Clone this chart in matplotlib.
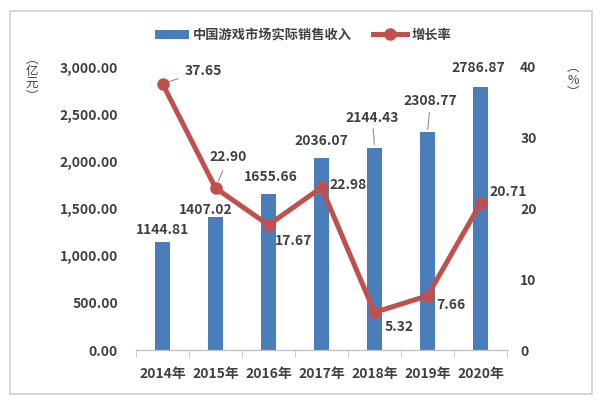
import matplotlib.pyplot as plt
from matplotlib.patches import Rectangle

plt.rcParams['font.family'] = ['Noto Sans CJK SC', 'DejaVu Sans']

years = ['2014年', '2015年', '2016年', '2017年', '2018年', '2019年', '2020年']
revenue = [1144.81, 1407.02, 1655.66, 2036.07, 2144.43, 2308.77, 2786.87]
growth = [37.65, 22.90, 17.67, 22.98, 5.32, 7.66, 20.71]

# label offsets in pixels (bar labels, line labels)
rev_off = [(0, 12), (-10, 7), (2, 17), (0, 17), (-2, 30), (3, 31), (-2, 19)]
gr_off = [(41, 13), (13, 31), (25, -16), (27, 2), (25, -15), (23, -9), (28, 11)]
rev_leader = [False, False, False, False, True, True, False]
gr_leader = [True, True, False, False, False, False, False]

text_c = '#404040'
fig = plt.figure(figsize=(6, 4.04), dpi=100)
fig.patches.append(Rectangle((10 / 600, 10 / 404), 582 / 600, 383 / 404,
                             transform=fig.transFigure, fill=False,
                             edgecolor='#d0d0d0', lw=1.2))
ax = fig.add_axes([136 / 600, 54 / 404, 371 / 600, 283 / 404])
ax2 = ax.twinx()

x = list(range(len(years)))
bars = ax.bar(x, revenue, width=0.265, color='#4a7ebb', label='中国游戏市场实际销售收入', zorder=2)
line, = ax2.plot(x, growth, color='#c0504d', lw=3.6, marker='o', markersize=8,
                 label='增长率', zorder=3)

ax.set_xlim(-0.5, 6.5)
ax.set_ylim(0, 3000)
ax2.set_ylim(0, 40)
ax.set_yticks([0, 500, 1000, 1500, 2000, 2500, 3000])
ax.set_yticklabels(['{:,.2f}'.format(v) for v in ax.get_yticks()])
ax2.set_yticks([0, 10, 20, 30, 40])
ax.set_xticks(x)
ax.set_xticklabels(years)
ax.set_xticks([i - 0.5 for i in range(8)], minor=True)
ax.tick_params(axis='x', which='major', length=0, pad=12)
ax.tick_params(axis='x', which='minor', length=5, color='#bfbfbf', direction='out')
ax.tick_params(axis='y', length=0, pad=13)
ax2.tick_params(axis='y', length=0, pad=9.5)
for a in (ax, ax2):
    for s in ['top', 'right', 'left']:
        a.spines[s].set_visible(False)
    a.spines['bottom'].set_color('#bfbfbf')
    for lab in a.get_xticklabels() + a.get_yticklabels():
        lab.set_fontsize(10)
        lab.set_fontweight('bold')
        lab.set_color(text_c)

leader = dict(arrowstyle='-', color='#909090', lw=0.8, shrinkA=1, shrinkB=2)
for i, v in enumerate(revenue):
    ax.annotate('{:.2f}'.format(v), (i, v), xytext=rev_off[i], textcoords='offset pixels',
                ha='center', va='center', fontsize=10, fontweight='bold', color=text_c,
                arrowprops=leader if rev_leader[i] else None)
for i, v in enumerate(growth):
    ax2.annotate('{:.2f}'.format(v), (i, v), xytext=gr_off[i], textcoords='offset pixels',
                 ha='center', va='center', fontsize=10, fontweight='bold', color=text_c,
                 arrowprops=dict(leader, shrinkA=3, shrinkB=5) if gr_leader[i] else None)

fig.text(32 / 600, 1 - 78 / 404, '︵\n亿\n元\n︶', ha='center', va='center',
         fontsize=9, color=text_c, linespacing=0.95)
fig.text(573 / 600, 1 - 80 / 404, '︵\n%\n︶', ha='center', va='center',
         fontsize=9, color=text_c, linespacing=0.95)

leg = fig.legend(handles=[bars, line], loc='center', bbox_to_anchor=(0.505, 1 - 35 / 404),
                 ncol=2, frameon=False, fontsize=9.5, handlelength=2.6, columnspacing=1.6,
                 handletextpad=0.3)
for t in leg.get_texts():
    t.set_fontweight('bold')
    t.set_color(text_c)

fig.savefig('out.png', dpi=100)
